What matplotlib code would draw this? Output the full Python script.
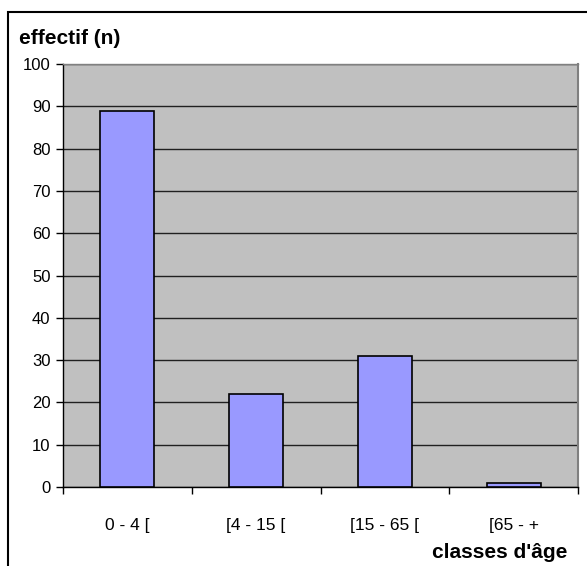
import numpy as np
import matplotlib.pyplot as plt
from matplotlib.patches import Rectangle
from matplotlib.ticker import FixedLocator, NullFormatter

plt.rcParams['font.family'] = ['Liberation Sans', 'DejaVu Sans']

# age classes and counts
classes = ['0 - 4 [', '[4 - 15 [', '[15 - 65 [', '[65 - +']
effectifs = [89, 22, 31, 1]

fig = plt.figure(figsize=(5.87, 5.66), dpi=100)
ax = fig.add_axes([63 / 587, 1 - 487 / 566, 515 / 587, 423 / 566])

x = np.arange(len(classes))
ax.set_facecolor('#C0C0C0')
ax.bar(x, effectifs, width=0.42, color='#9999FF', edgecolor='black', linewidth=1.2, zorder=3)

ax.set_xlim(-0.5, len(classes) - 0.5)
ax.set_ylim(0, 100)
ax.set_yticks(range(0, 101, 10))
ax.yaxis.grid(True, color='#202020', linewidth=1, zorder=1)
ax.set_axisbelow(True)

ax.set_xticks(x)
ax.set_xticklabels(classes, fontsize=12.5)
ax.tick_params(axis='x', which='major', length=0, pad=22)
ax.xaxis.set_minor_locator(FixedLocator(np.arange(-0.5, len(classes), 1.0)))
ax.xaxis.set_minor_formatter(NullFormatter())
ax.tick_params(axis='x', which='minor', length=5, width=1, direction='out')
ax.tick_params(axis='y', length=5, width=1, direction='out', labelsize=12, pad=4)

for s in ['left', 'bottom']:
    ax.spines[s].set_color('black')
    ax.spines[s].set_linewidth(1)
ax.spines['right'].set_color('#808080')
ax.spines['right'].set_linewidth(1.5)
ax.spines['top'].set_color('#808080')
ax.spines['top'].set_linewidth(1)

fig.text(19 / 587, 1 - 38 / 566, 'effectif (n)', fontsize=15, fontweight='bold', va='center', ha='left')
fig.text(567 / 587, 1 - 552 / 566, "classes d'âge", fontsize=15, fontweight='bold', va='center', ha='right')

# outer frame, cut off at the right and bottom
fig.patches.append(Rectangle((8 / 587, -0.1), 1.2, 1.1 - 12 / 566, transform=fig.transFigure,
                             fill=False, edgecolor='black', linewidth=1.5))

fig.savefig('out.png', dpi=100)
